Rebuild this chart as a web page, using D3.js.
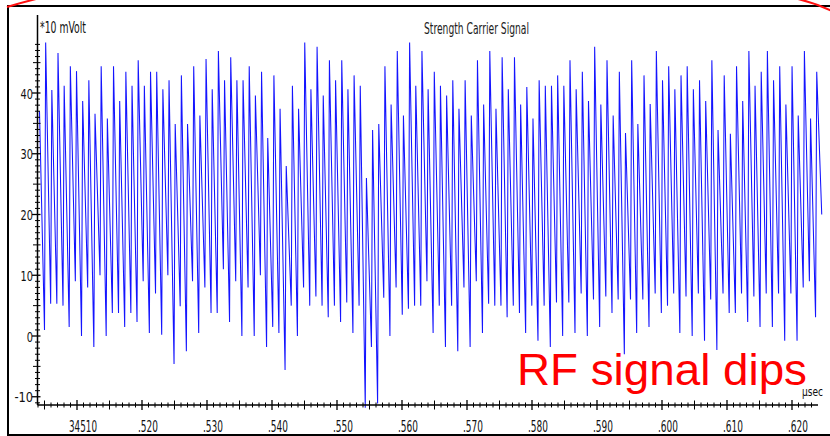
<!DOCTYPE html>
<html>
<head>
<meta charset="utf-8">
<script src="https://cdnjs.cloudflare.com/ajax/libs/d3/7.8.5/d3.min.js"></script>
<style>
  html, body { margin: 0; padding: 0; background: #ffffff; overflow: hidden; }
  svg { display: block; }
  text { font-family: "Liberation Sans Narrow", "DejaVu Sans Condensed", "Liberation Sans", Arial, sans-serif; }
</style>
</head>
<body>
<svg id="chart" width="830" height="436"></svg>
<script>
// ---------------- data ----------------
const chartTitle = "Strength Carrier Signal";
const yUnitLabel = "*10 mVolt";
const xUnitLabel = "\u00b5sec";
const annotation = "RF signal dips";

// sampling grid of the recorded trace (µs)
const sampleStart = 34504.23;
const cycleInterval = 0.949;
const troughLag = 0.77;

// peak value of every cycle (*10 mV)
const peakValues = [37, 48.3, 40.5, 46.6, 41.2, 44.4, 43.6, 38.7, 42.1, 36.6, 44.4, 35.8, 44.4, 38.7, 43.5, 41.2,
  45.4, 41.2, 43.5, 43.5, 40.6, 42.1, 34.9, 42.9, 34.9, 44.4, 36.3, 45.6, 40.6, 46.9, 42.1, 45.9, 42.1, 42.1,
  44.4, 39.6, 43.5, 32.6, 42.9, 37.4, 28, 41.2, 37.4, 48.3, 40.6, 47.6, 39.6, 45.4, 42.1, 45.4, 40.6, 42.9,
  41.2, 26, 33.9, 34.9, 44.4, 38.1, 46.9, 36.3, 48.3, 41.2, 46.9, 40.6, 43.5, 41.2, 39.6, 42.1, 37.4, 42.1,
  36.3, 45.4, 38.1, 46.9, 37.4, 45.9, 40.6, 45.9, 38.1, 41, 35.8, 42.1, 41.2, 41.2, 42.9, 41.2, 45.4, 40.6,
  43.5, 38.7, 47.6, 38.1, 45.4, 36.3, 43.5, 33.4, 45.4, 34.9, 42.9, 38.2, 46.9, 42.1, 44.4, 40.6, 42.9, 44.4,
  40.6, 42.1, 38.7, 45.4, 33.9, 42.9, 33.3, 44.4, 38.7, 46.9, 41.2, 43.5, 46.9, 42.1, 44.4, 38.1, 44.4, 36.3,
  46.9, 35.8, 43.5];

// trough value following every peak (*10 mV)
const troughValues = [1, 5.3, 5.3, 5.0, 1.5, 9, 0, 8, -1.8, 10, 0, 3.8, 3.8, 1.5, 3.8, 2.3, 9, 0.5, 7, 0.2, 10,
  -4.6, 4.9, -2.5, 9, 0.5, 8, 3.8, 3.8, 11, 2.3, 9, 0, 8, 0, 10, -1.8, 1.5, 0.5, -5.6, 5, 0, 8, 5, 6.5, 5, 3.1,
  5, 2.3, 5.5, 0.5, 5, -11.8, -1.8, -11.1, 6.3, 0, 8, 3.5, 4.5, 5, 5, 9, 0.5, 5, -1.8, 5, -2.5, 8, -1.8, 9,
  0.5, 5.3, 5, 5, 3.1, 5, 3.8, 0.5, 5, -0.8, 5, -1.8, 5.5, 0, 5.5, 0.5, 7, 0, 6, 1.5, 6.5, 3.8, 6, -3, 6, 0.5,
  6, 1.5, 7, 3.8, 5, 7, 0.5, 6.5, 0, 7, -0.8, 6, -2.3, 7, 3.8, 3.8, 7, 2.3, 6.5, 1.5, 7, 1.5, 7, -0.8, 7, -0.8,
  8, 9, 3.1, 20];

const xTickValues = [34510, 34520, 34530, 34540, 34550, 34560, 34570, 34580, 34590, 34600, 34610, 34620];
const xTickLabels = ["34510", ".520", ".530", ".540", ".550", ".560", ".570", ".580", ".590", ".600", ".610", ".620"];
const yTickValues = [40, 30, 20, 10, 0, -10];
const yTickLabels = ["40", "30", "20", "10", "0", "-10"];

// ---------------- drawing ----------------
const svg = d3.select("#chart");

const x = d3.scaleLinear().domain([34510, 34620]).range([77, 792]);
const y = d3.scaleLinear().domain([0, 40]).range([336, 93]);

const axisX0 = 37.5, axisY0 = 405;

// frame
svg.append("rect").attr("x", 8).attr("y", 6).attr("width", 840).attr("height", 429)
  .attr("fill", "none").attr("stroke", "#000").attr("stroke-width", 2);

// red annotation outline fragments
svg.append("path").attr("d", "M7,7 Q20,3 36,-1").attr("fill", "none").attr("stroke", "#ff1010").attr("stroke-width", 2);
svg.append("path").attr("d", "M798,-1 Q815,3 832,11").attr("fill", "none").attr("stroke", "#ff1010").attr("stroke-width", 2);

// signal points
const n = Math.min(peakValues.length, troughValues.length);
const points = [];
for (let i = 0; i < n; i++) {
  const t = sampleStart + i * cycleInterval;
  points.push([t, peakValues[i]]);
  points.push([t + troughLag, troughValues[i]]);
}

const line = d3.line().x(d => x(d[0])).y(d => y(d[1]));
svg.append("path").datum(points)
  .attr("d", line)
  .attr("fill", "none")
  .attr("stroke", "#1414ff")
  .attr("stroke-width", 1.05)
  .attr("stroke-linejoin", "miter");

// axes lines
const tMin = x.invert(axisX0), tMax = x.invert(818);
const vTop = y.invert(15), vBottom = y.invert(axisY0);

svg.append("line").attr("x1", x(tMin)).attr("x2", x(tMax)).attr("y1", axisY0).attr("y2", axisY0)
  .attr("stroke", "#000").attr("stroke-width", 1.5);
svg.append("line").attr("x1", axisX0).attr("x2", axisX0).attr("y1", y(vTop)).attr("y2", y(vBottom))
  .attr("stroke", "#000").attr("stroke-width", 1.5);

// x ticks every microsecond
const xMinor = d3.range(Math.ceil(tMin), Math.floor(x.invert(816)) + 1);
svg.append("g").selectAll("line").data(xMinor).join("line")
  .attr("x1", d => x(d)).attr("x2", d => x(d))
  .attr("y1", d => axisY0 - (d % 10 === 0 ? 5 : d % 5 === 0 ? 4.5 : 2.5))
  .attr("y2", d => axisY0 + (d % 10 === 0 ? 5 : d % 5 === 0 ? 4.5 : 2.5))
  .attr("stroke", "#000").attr("stroke-width", d => d % 10 === 0 ? 1.3 : 1);

// y ticks every unit
const yMinor = d3.range(Math.ceil(vBottom), 49);
svg.append("g").selectAll("line").data(yMinor).join("line")
  .attr("y1", d => y(d)).attr("y2", d => y(d))
  .attr("x1", d => axisX0 - (d % 10 === 0 ? 5.5 : d % 5 === 0 ? 4.5 : 2.5))
  .attr("x2", d => axisX0 + (d % 5 === 0 ? 3 : 2.5))
  .attr("stroke", "#000").attr("stroke-width", d => d % 10 === 0 ? 1.3 : 1);

// x tick labels
svg.append("g").selectAll("text").data(xTickValues).join("text")
  .attr("x", d => x(d) + 6)
  .attr("y", 432)
  .attr("text-anchor", "middle")
  .attr("font-size", 15)
  .attr("fill", "#111")
  .attr("textLength", (d, i) => xTickLabels[i].length === 5 ? 28 : 20)
  .attr("lengthAdjust", "spacingAndGlyphs")
  .text((d, i) => xTickLabels[i]);

// y tick labels
svg.append("g").selectAll("text").data(yTickValues).join("text")
  .attr("x", 33)
  .attr("y", d => y(d) + 5.5)
  .attr("text-anchor", "end")
  .attr("font-size", 14)
  .attr("fill", "#111")
  .attr("textLength", (d, i) => yTickLabels[i].length * 6.2)
  .attr("lengthAdjust", "spacingAndGlyphs")
  .text((d, i) => yTickLabels[i]);

// title and unit labels
svg.append("text").attr("x", 424).attr("y", 33.5).attr("font-size", 15).attr("fill", "#222")
  .attr("textLength", 105).attr("lengthAdjust", "spacingAndGlyphs").text(chartTitle);
svg.append("text").attr("x", 40).attr("y", 33).attr("font-size", 15).attr("fill", "#111")
  .attr("textLength", 46).attr("lengthAdjust", "spacingAndGlyphs").text(yUnitLabel);
svg.append("text").attr("x", 802).attr("y", 396).attr("font-size", 13).attr("fill", "#111")
  .attr("textLength", 21).attr("lengthAdjust", "spacingAndGlyphs").text(xUnitLabel);

// annotation
svg.append("text").attr("x", 517).attr("y", 385)
  .style("font-family", "'Liberation Sans', Arial, sans-serif")
  .attr("font-size", 44).attr("fill", "#ff0000")
  .attr("textLength", 290).attr("lengthAdjust", "spacingAndGlyphs").text(annotation);
</script>
</body>
</html>
